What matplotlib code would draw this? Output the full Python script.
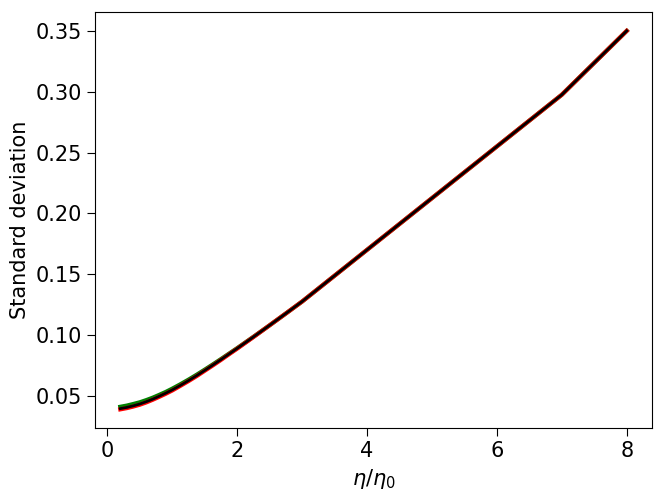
import matplotlib
matplotlib.use("Agg")
import matplotlib.pyplot as plt

eta = [0.2, 0.3, 0.4, 0.5, 0.6, 0.7, 0.8, 0.9, 1.0, 1.125, 1.25, 1.375, 1.5, 1.625, 1.75, 1.875, 2.0, 2.25, 2.5, 2.75, 3.0, 4.0, 5.0, 6.0, 7.0, 8.0]
std_black = [0.0395, 0.0405, 0.0418, 0.0433, 0.0452, 0.0473, 0.0497, 0.0522, 0.0549, 0.0586, 0.0625, 0.0666, 0.0709, 0.0753, 0.0798, 0.0844, 0.0890, 0.0984, 0.1080, 0.1177, 0.1275, 0.1700, 0.2125, 0.2550, 0.2975, 0.3500]
std_green = [v + d for v, d in zip(std_black, [0.0015, 0.0015, 0.0015, 0.0014, 0.0013, 0.0012, 0.0011, 0.001, 0.001, 0.0009, 0.0008, 0.0007, 0.0006, 0.0005, 0.0004, 0.0003, 0.0002, 0.0001, 0, 0, 0, 0, 0, 0, 0, 0])]
std_red = [v - d for v, d in zip(std_black, [0.0006, 0.0006, 0.0006, 0.0006, 0.0006, 0.0005, 0.0005, 0.0005, 0.0005, 0.0004, 0.0004, 0.0004, 0.0003, 0.0003, 0.0003, 0.0002, 0.0002, 0.0001, 0, 0, 0, 0, 0, 0, 0, 0])]

plt.rcParams['font.size'] = 15
fig, ax = plt.subplots(figsize=(6.64, 4.98), dpi=100)
ax.plot(eta, std_green, color='green', lw=3)
ax.plot(eta, std_red, color='red', lw=3)
ax.plot(eta, std_black, color='black', lw=2)
ax.set_xlabel(r'$\eta/\eta_0$')
ax.set_ylabel('Standard deviation')
ax.set_xticks([0, 2, 4, 6, 8])
ax.set_yticks([0.05, 0.10, 0.15, 0.20, 0.25, 0.30, 0.35])
ax.tick_params(length=6, labelsize=15)
fig.subplots_adjust(left=0.143, right=0.982, top=0.976, bottom=0.14)
fig.savefig('out.png')
